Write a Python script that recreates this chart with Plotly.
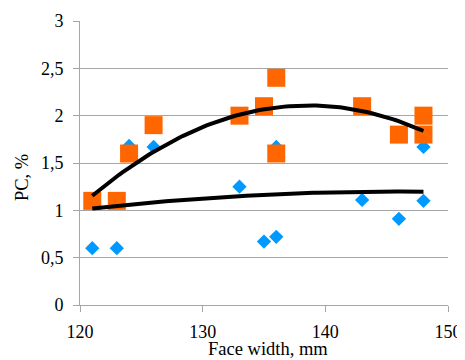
import numpy as np
import plotly.graph_objects as go

# Data
blue_x = [121, 123, 124, 126, 133, 135, 136, 136, 143, 146, 148, 148]
blue_y = [0.60, 0.60, 1.68, 1.67, 1.25, 0.67, 0.72, 1.67, 1.11, 0.91, 1.10, 1.67]

orange_x = [121, 123, 124, 126, 133, 135, 136, 136, 143, 146, 148, 148]
orange_y = [1.10, 1.10, 1.60, 1.90, 2.00, 2.10, 2.40, 1.60, 2.10, 1.80, 2.00, 1.80]

x_ticks = [120, 130, 140, 150]
y_ticks = [0, 0.5, 1, 1.5, 2, 2.5, 3]
y_tick_labels = ["0", "0,5", "1", "1,5", "2", "2,5", "3"]

x_title = "Face width, mm"
y_title = "PC, %"

# Second-order polynomial trendlines (as in the original spreadsheet chart)
def trend(xs, ys):
    c = np.polyfit(xs, ys, 2)
    xx = np.linspace(min(xs), max(xs), 100)
    return xx, np.polyval(c, xx)

bt_x, bt_y = trend(blue_x, blue_y)
ot_x, ot_y = trend(orange_x, orange_y)

fig = go.Figure()
fig.add_trace(go.Scatter(x=blue_x, y=blue_y, mode="markers",
                         marker=dict(symbol="diamond", size=11, color="#0099FF", line=dict(width=0)),
                         showlegend=False))
fig.add_trace(go.Scatter(x=orange_x, y=orange_y, mode="markers",
                         marker=dict(symbol="square", size=18, color="#FF6600", line=dict(width=0)),
                         showlegend=False))
fig.add_trace(go.Scatter(x=bt_x, y=bt_y, mode="lines",
                         line=dict(color="black", width=4), showlegend=False))
fig.add_trace(go.Scatter(x=ot_x, y=ot_y, mode="lines",
                         line=dict(color="black", width=4), showlegend=False))

font = dict(family="Liberation Serif, Times New Roman, serif", size=18, color="black")

# page has an 8px body margin: plot area at page x 80..448, y 21..305
fig.update_layout(
    width=465, height=360,
    margin=dict(l=72, r=25, t=13, b=63),
    paper_bgcolor="white", plot_bgcolor="white",
    font=font,
    xaxis=dict(range=[120, 150], tickvals=x_ticks, showgrid=False,
               showline=True, linecolor="#A6A6A6", linewidth=1,
               ticks="outside", ticklen=6, tickcolor="#A6A6A6",
               ticklabelstandoff=4,
               automargin=False, zeroline=False),
    yaxis=dict(range=[0, 3], tickvals=y_ticks, ticktext=y_tick_labels,
               showgrid=True, gridcolor="#A6A6A6", gridwidth=1,
               showline=True, linecolor="#A6A6A6", linewidth=1,
               ticks="outside", ticklen=6, tickcolor="#A6A6A6",
               ticklabelstandoff=6,
               automargin=False, zeroline=False),
    annotations=[
        dict(text=x_title, xref="paper", yref="paper", x=0.51, y=-0.155,
             xanchor="center", yanchor="middle", showarrow=False,
             font=dict(size=18.5)),
        dict(text=y_title, xref="paper", yref="paper", x=-0.158, y=0.45,
             xanchor="center", yanchor="middle", textangle=-90, showarrow=False,
             font=dict(size=18.5)),
    ],
)

fig.write_html("out.html")
